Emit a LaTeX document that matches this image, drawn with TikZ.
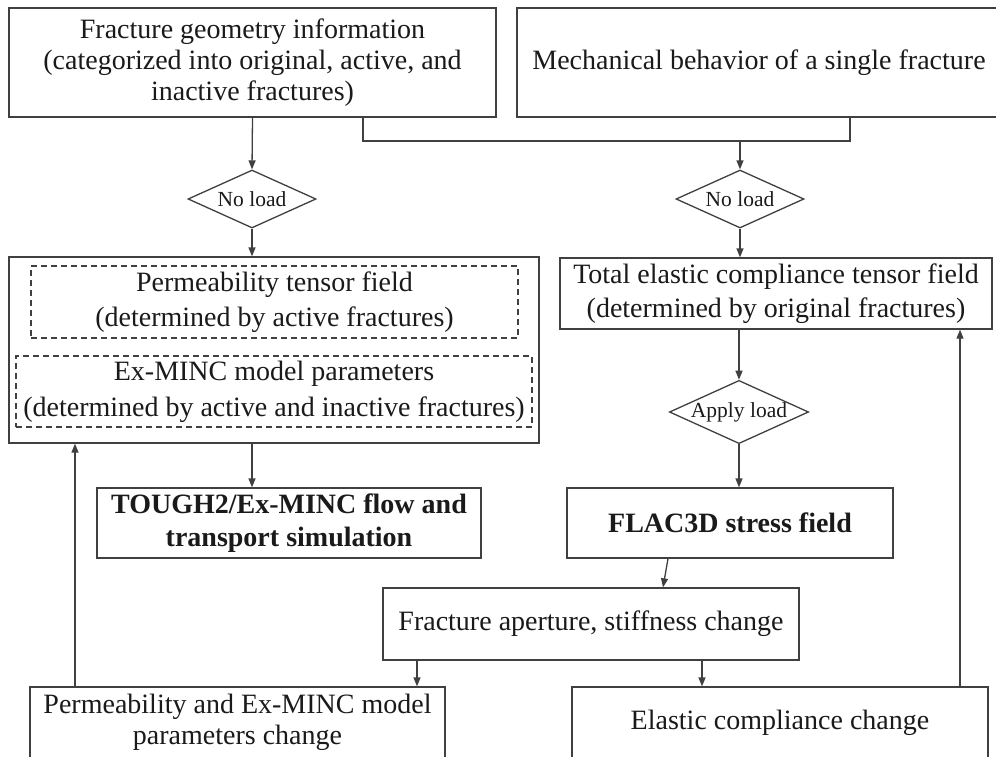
\documentclass[tikz,border=0pt]{standalone}
\usepackage{fontspec}
\setmainfont{Liberation Serif}
\usetikzlibrary{arrows.meta,shapes.geometric}
\definecolor{lncol}{HTML}{404040}
\definecolor{txcol}{HTML}{1A1A1A}
\begin{document}
\begin{tikzpicture}[x=1pt,y=-1pt,
  box/.style={draw=lncol, line width=1.3pt, text=txcol, align=center, inner sep=0pt, font=\fontsize{28}{32}\selectfont},
  dbox/.style={box, dash pattern=on 6pt off 4pt},
  dia/.style={draw=lncol, line width=1.3pt, shape=diamond, aspect=2.2, inner sep=0pt, text=txcol, font=\fontsize{21.5}{24}\selectfont},
  arr/.style={draw=lncol, line width=1.3pt, -{Triangle[length=9pt,width=7pt]}},
  conn/.style={draw=lncol, line width=1.3pt}]
\useasboundingbox (0,0) rectangle (996,756);
\fill[white] (0,0) rectangle (996,756);
\clip (0,0) rectangle (996,756);

\node[box, minimum width=487, minimum height=109, font=\fontsize{28}{31}\selectfont] (A) at (252.5,62.5)
  {Fracture geometry information\\(categorized into original, active, and\\inactive fractures)};
\node[box, minimum width=484, minimum height=109] (B) at (759,62.5)
  {Mechanical behavior of a single fracture};

\node[dia, minimum width=128, minimum height=58] (d1) at (252,199) {No load};
\node[dia, minimum width=128, minimum height=58] (d2) at (740,199) {No load};

\node[box, minimum width=530, minimum height=186] (C) at (274,350) {};
\node[dbox, minimum width=487, minimum height=72, font=\fontsize{28}{35}\selectfont] (P1) at (274.5,302)
  {Permeability tensor field\\(determined by active fractures)};
\node[dbox, minimum width=516, minimum height=71, font=\fontsize{28}{36}\selectfont] (P2) at (274,391.5)
  {Ex-MINC model parameters\\(determined by active and inactive fractures)};

\node[box, minimum width=432, minimum height=71, font=\fontsize{28}{34}\selectfont] (D) at (776,293.5)
  {Total elastic compliance tensor field\\(determined by original fractures)};
\node[dia, minimum width=138, minimum height=62] (ap) at (739,412) {Apply load};

\node[box, minimum width=384, minimum height=70, font=\fontsize{28}{33}\selectfont\bfseries] (T) at (289,523)
  {TOUGH2/Ex-MINC flow and\\transport simulation};
\node[box, minimum width=326, minimum height=70, font=\fontsize{28}{33}\selectfont\bfseries] (FL) at (730,523)
  {FLAC3D stress field};
\node[box, minimum width=416, minimum height=72] (E) at (591,624)
  {Fracture aperture, stiffness change};
\node[box, minimum width=415, minimum height=71, font=\fontsize{28}{31}\selectfont] (F) at (237.5,722.5)
  {Permeability and Ex-MINC model\\parameters change};
\node[box, minimum width=416, minimum height=71] (G) at (780,722.5)
  {Elastic compliance change};

\coordinate (j1) at (363,141);
\coordinate (j2) at (850,141);
\coordinate (j) at (740,141);
\coordinate (fl) at (75,0);
\coordinate (fr) at (960,0);

\draw[arr] (A.south) -- (d1.north);
\draw[conn] (A.south -| j1) -- (j1) -- (j2) -- (B.south -| j2);
\draw[arr] (j) -- (d2.north);
\draw[arr] (d1.south) -- (d1.south |- C.north);
\draw[arr] (d2.south) -- (d2.south |- D.north);
\draw[arr] (d1.south |- C.south) -- (d1.south |- T.north);
\draw[arr] (ap.north |- D.south) -- (ap.north);
\draw[arr] (ap.south) -- (ap.south |- FL.north);
\draw[arr] ([xshift=-62pt]FL.south) -- ([xshift=72pt]E.north);
\draw[arr] ([xshift=-174pt]E.south) -- ([xshift=-174pt]E.south |- F.north);
\draw[arr] ([xshift=111pt]E.south) -- ([xshift=111pt]E.south |- G.north);
\draw[arr] (F.north -| fl) -- (C.south -| fl);
\draw[arr] (G.north -| fr) -- (D.south -| fr);
\end{tikzpicture}
\end{document}
